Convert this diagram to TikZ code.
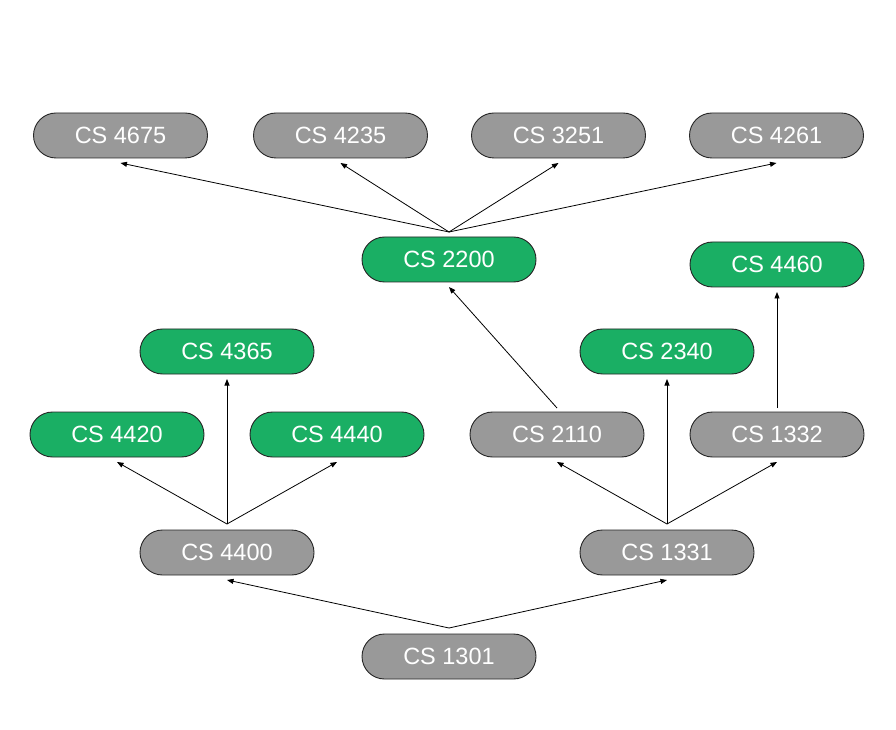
\documentclass[tikz,border=0pt]{standalone}
\usepackage{fontspec}
\setmainfont{Liberation Sans}
\usepackage{xcolor}
\usetikzlibrary{arrows.meta,positioning,calc}

\definecolor{coursegray}{HTML}{999999}
\definecolor{coursegreen}{HTML}{1AAF64}

\begin{document}
\begin{tikzpicture}[
  x=1pt, y=1pt,
  node distance=46pt and 46pt,
  course/.style={draw=black!85, line width=0.9pt, fill=coursegray,
    rounded corners=22.5pt, minimum height=45pt, minimum width=174pt,
    inner sep=0pt, outer sep=0pt, text=white,
    font=\fontsize{23.5}{27}\selectfont},
  taken/.style={course, fill=coursegreen},
  arrow/.style={-{Triangle[length=6.5pt,width=5pt]}, line width=0.8pt}
]
\useasboundingbox (0,0) rectangle (896,729);

% Top row
\node[course] (c4675) at (120.5,593.5) {CS 4675};
\node[course, right=of c4675] (c4235) {CS 4235};
\node[course, right=44pt of c4235] (c3251) {CS 3251};
\node[course, right=44pt of c3251] (c4261) {CS 4261};

% Upper middle
\node[taken] (c2200) at (449,469.5) {CS 2200};
\node[taken] (c4460) at (777,464.5) {CS 4460};
\node[taken] (c4365) at (227,377.5) {CS 4365};
\node[taken] (c2340) at (667,377.5) {CS 2340};

% Middle row
\node[taken] (c4420) at (117,294.5) {CS 4420};
\node[taken, right=of c4420] (c4440) {CS 4440};
\node[course, right=of c4440] (c2110) {CS 2110};
\node[course, right=of c2110] (c1332) {CS 1332};

% Bottom
\node[course] (c4400) at (227,176.5) {CS 4400};
\node[course] (c1331) at (667,176.5) {CS 1331};
\node[course] (c1301) at (449,72.5) {CS 1301};

% Tails
\coordinate (t1301) at ([yshift=6pt]c1301.north);
\coordinate (t4400) at ([yshift=6pt]c4400.north);
\coordinate (t1331) at ([yshift=6pt]c1331.north);
\coordinate (t2110) at ([yshift=4pt]c2110.north);
\coordinate (t1332) at ([yshift=4pt]c1332.north);
\coordinate (t2200) at ([yshift=5pt]c2200.north);

\draw[arrow] (t1301) -- ([yshift=-5pt]c4400.south);
\draw[arrow] (t1301) -- ([yshift=-5pt]c1331.south);

\draw[arrow] (t4400) -- ([yshift=-5pt]c4420.south);
\draw[arrow] (t4400) -- ([yshift=-5pt]c4365.south);
\draw[arrow] (t4400) -- ([yshift=-5pt]c4440.south);

\draw[arrow] (t1331) -- ([yshift=-5pt]c2110.south);
\draw[arrow] (t1331) -- ([yshift=-5pt]c2340.south);
\draw[arrow] (t1331) -- ([yshift=-5pt]c1332.south);

\draw[arrow] (t2110) -- ([yshift=-5pt]c2200.south);
\draw[arrow] (t1332) -- ([yshift=-5pt]c4460.south);

\draw[arrow] (t2200) -- ([yshift=-5pt]c4675.south);
\draw[arrow] (t2200) -- ([yshift=-5pt]c4235.south);
\draw[arrow] (t2200) -- ([yshift=-5pt]c3251.south);
\draw[arrow] (t2200) -- ([yshift=-5pt]c4261.south);

\end{tikzpicture}
\end{document}
